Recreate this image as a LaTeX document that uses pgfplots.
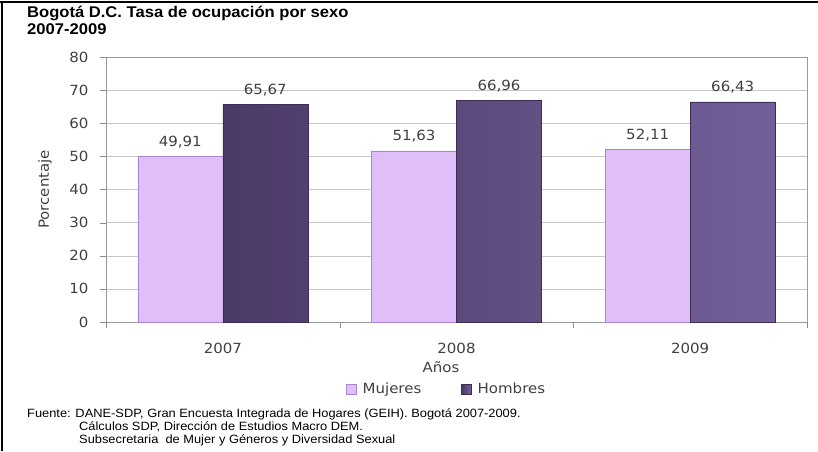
\documentclass[border=0pt]{standalone}
\usepackage{pgfplots}
\pgfplotsset{compat=1.18}
\usepackage{fontspec}
\setmainfont{DejaVu Sans}[FakeStretch=1.07]
\newfontfamily\arial{Liberation Sans}[FakeStretch=1.07]

\definecolor{mujer}{HTML}{DFBEFA}
\definecolor{mujeredge}{HTML}{A785D0}
\definecolor{hombreL}{HTML}{4B3967}
\definecolor{hombreR}{HTML}{73609A}
\definecolor{hombreedge}{HTML}{3B2D55}
\definecolor{txt}{HTML}{404040}

\begin{document}
\begin{tikzpicture}
\path[use as bounding box] (0,0) rectangle (818pt,451pt);
% marco
\draw[line width=2pt] (0pt,449pt) -- (818pt,449pt);
\draw[line width=2pt] (2pt,450pt) -- (2pt,0pt);

\node[anchor=base west, inner sep=0pt, font=\arial\bfseries\fontsize{15.5}{18}\selectfont]
  at (27pt,433pt) {Bogotá D.C. Tasa de ocupación por sexo};
\node[anchor=base west, inner sep=0pt, font=\arial\bfseries\fontsize{15.5}{18}\selectfont]
  at (27pt,416pt) {2007-2009};

\begin{axis}[
  at={(106pt,129pt)}, anchor=south west,
  scale only axis,
  width=701pt, height=265pt,
  xmin=0, xmax=3, ymin=0, ymax=80,
  ybar=0pt, bar width=85pt,
  xtick={0,1,2,3},
  xticklabels={2007,2008,2009},
  x tick label as interval,
  ytick={0,10,...,80},
  tick pos=left, tick align=outside,
  major tick length=6pt,
  tick style={draw=black!45},
  ymajorgrids,
  grid style={draw=black!22},
  axis line style={draw=black!40},
  font=\fontsize{14}{16}\selectfont,
  tick label style={text=txt},
  /pgf/number format/assume math mode=true,
  xticklabel style={yshift=-12pt},
  yticklabel style={xshift=-8pt},
  xlabel={Años},
  xlabel style={at={(axis description cs:0.478,-0.17)}, anchor=center, text=txt},
  ylabel={Porcentaje},
  ylabel style={at={(axis description cs:-0.087,0.5)}, anchor=center, text=txt},
  clip=false,
  nodes near coords={\pgfmathprintnumber[fixed,fixed zerofill,precision=2,use comma,assume math mode=true]{\pgfplotspointmeta}},
  every node near coord/.append style={text=txt, yshift=5pt, font=\fontsize{14}{16}\selectfont},
  legend style={at={(0.486,-0.253)}, anchor=center, draw=none, fill=none,
    legend columns=2, text=txt, font=\fontsize{14}{16}\selectfont,
    /tikz/every even column/.append style={column sep=38pt}},
  legend image code/.code={\draw[#1] (0pt,-5pt) rectangle (10pt,5pt); \path (14pt,0pt);},
]
\addplot[fill=mujer, draw=mujeredge] coordinates {(0.5,49.91) (1.5,51.63) (2.5,52.11)};
\addplot[left color=hombreL, right color=hombreR, draw=hombreedge] coordinates {(0.5,65.67) (1.5,66.96) (2.5,66.43)};
\legend{Mujeres, Hombres}
\end{axis}

\begin{scope}[font=\arial\fontsize{12}{14}\selectfont]
\node[anchor=base west, inner sep=0pt] at (27pt,34pt) {Fuente: DANE-SDP, Gran Encuesta Integrada de Hogares (GEIH). Bogotá 2007-2009.};
\node[anchor=base west, inner sep=0pt] at (79pt,21pt) {Cálculos SDP, Dirección de Estudios Macro DEM.};
\node[anchor=base west, inner sep=0pt] at (79pt,8pt) {Subsecretaria\ \ de Mujer y Géneros y Diversidad Sexual};
\end{scope}
\end{tikzpicture}
\end{document}
